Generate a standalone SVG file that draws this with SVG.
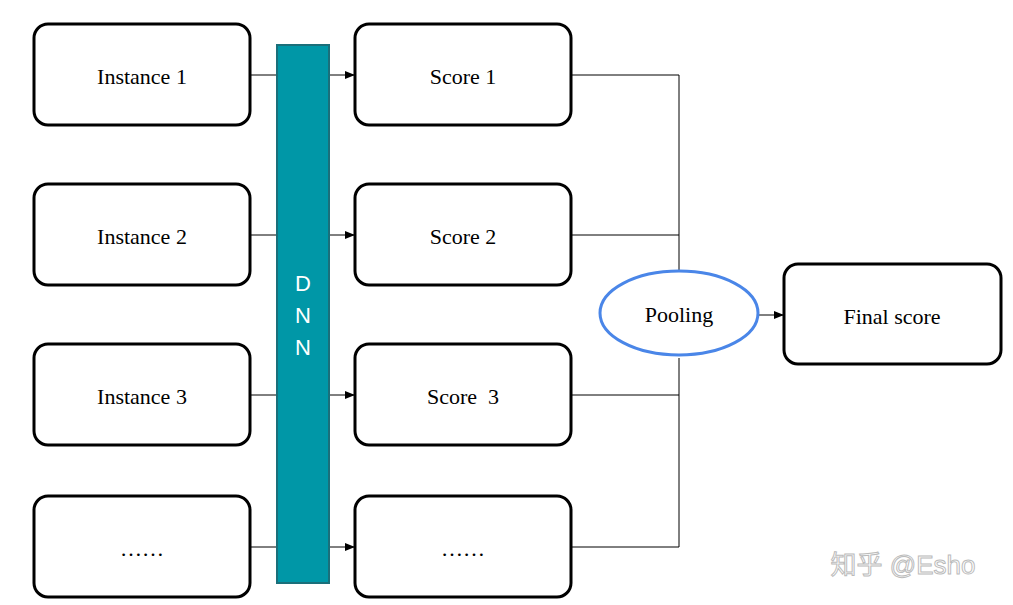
<svg xmlns="http://www.w3.org/2000/svg" width="1013" height="605" viewBox="0 0 1013 605">
<style>
.box{fill:#fff;stroke:#000;stroke-width:3}
.t{font-family:"Liberation Serif",serif;font-size:22px;text-anchor:middle;dominant-baseline:central;fill:#000}
.ln{stroke:#000;stroke-width:1;fill:none}
.d{font-family:"Liberation Sans",sans-serif;font-size:22px;fill:#fff;text-anchor:middle;dominant-baseline:central}
</style>
<defs><marker id="a" markerWidth="10" markerHeight="8" refX="10" refY="4" orient="auto" markerUnits="userSpaceOnUse"><path d="M0,0L10,4L0,8z" fill="#000"/></marker></defs>
<rect width="1013" height="605" fill="#fff"/>
<g id="connectors">
<path class="ln" d="M250,75H277M250,235H277M250,395H277M250,547H277"/>
<path class="ln" marker-end="url(#a)" d="M329,75H355"/>
<path class="ln" marker-end="url(#a)" d="M329,235H355"/>
<path class="ln" marker-end="url(#a)" d="M329,395H355"/>
<path class="ln" marker-end="url(#a)" d="M329,547H355"/>
<path class="ln" d="M571,75H679V272M571,235H679M571,395H679M571,547H679V358"/>
<path class="ln" marker-end="url(#a)" d="M758,315H784"/>
</g>
<g id="i1"><rect class="box" x="34" y="24" width="216" height="101" rx="14"/><text class="t" x="142" y="76">Instance 1</text></g>
<g id="i2"><rect class="box" x="34" y="184" width="216" height="101" rx="14"/><text class="t" x="142" y="236">Instance 2</text></g>
<g id="i3"><rect class="box" x="34" y="344" width="216" height="101" rx="14"/><text class="t" x="142" y="396">Instance 3</text></g>
<g id="i4"><rect class="box" x="34" y="496" width="216" height="101" rx="14"/><text class="t" x="142" y="548">……</text></g>
<g id="dnn"><rect x="277" y="45" width="52" height="538" fill="#0097a7" stroke="#1b6f7a" stroke-width="2"/><text class="d" x="303" y="283">D</text><text class="d" x="303" y="315">N</text><text class="d" x="303" y="347">N</text></g>
<g id="s1"><rect class="box" x="355" y="24" width="216" height="101" rx="14"/><text class="t" x="463" y="76">Score 1</text></g>
<g id="s2"><rect class="box" x="355" y="184" width="216" height="101" rx="14"/><text class="t" x="463" y="236">Score 2</text></g>
<g id="s3"><rect class="box" x="355" y="344" width="216" height="101" rx="14"/><text class="t" x="463" y="396" xml:space="preserve">Score  3</text></g>
<g id="s4"><rect class="box" x="355" y="496" width="216" height="101" rx="14"/><text class="t" x="463" y="548">……</text></g>
<g id="pool"><ellipse cx="679" cy="313" rx="79" ry="42" fill="#fff" stroke="#4a86e8" stroke-width="3"/><text class="t" x="679" y="314">Pooling</text></g>
<g id="final"><rect class="box" x="784" y="264" width="217" height="100" rx="14"/><text class="t" x="892" y="316">Final score</text></g>
<text x="903" y="574" font-family="Liberation Sans,Noto Sans CJK SC,sans-serif" font-size="26" fill="#fff" stroke="#bbb" stroke-width="1" text-anchor="middle">知乎 @Esho</text>
</svg>
